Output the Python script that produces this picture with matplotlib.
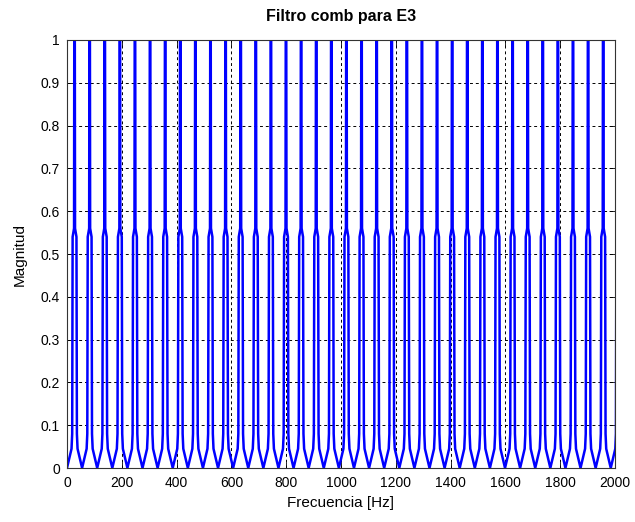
import numpy as np
import matplotlib
matplotlib.use('Agg')
from matplotlib import pyplot as plt

# comb response: peaks every 55.125 Hz starting at 27.56 Hz.
# shape of one peak: distance from the peak centre (Hz) -> magnitude
first_peak_hz = 27.5625
peak_spacing_hz = 55.125
side_offset_hz = [1.0, 1.8, 7.0, 8.6, 11.0, 27.5625]
side_mag = [1.0, 0.56, 0.54, 0.08, 0.045, 0.0]
f_max = 2000

x_ticks = [0, 200, 400, 600, 800, 1000, 1200, 1400, 1600, 1800, 2000]
y_ticks = [0, 0.1, 0.2, 0.3, 0.4, 0.5, 0.6, 0.7, 0.8, 0.9, 1]
y_ticklabels = ['0', '0.1', '0.2', '0.3', '0.4', '0.5', '0.6', '0.7', '0.8', '0.9', '1']

offs = np.array(side_offset_hz)
mags = np.array(side_mag)
one_f = np.concatenate([-offs[::-1], offs])
one_m = np.concatenate([mags[::-1], mags])

freq, mag = [], []
c = first_peak_hz
while c - peak_spacing_hz / 2 <= f_max:
    freq.extend(c + one_f)
    mag.extend(one_m)
    c += peak_spacing_hz

plt.rcParams['font.family'] = ['Liberation Sans', 'DejaVu Sans']

fig = plt.figure(figsize=(6.35, 5.22), dpi=100)
ax = fig.add_axes([0.1055, 0.1034, 0.863, 0.82])

ax.plot(freq, mag, color='#0000ff', linewidth=1.8)

ax.set_xlim(0, f_max)
ax.set_ylim(0, 1)
ax.set_xticks(x_ticks)
ax.set_yticks(y_ticks)
ax.set_yticklabels(y_ticklabels)
ax.tick_params(direction='in', top=True, right=True, labelsize=10, length=4, width=0.6)
ax.tick_params(axis='x', pad=6)
ax.tick_params(axis='y', pad=5)
ax.grid(True, color='black', linestyle=(0, (3, 3)), linewidth=0.7)
for s in ax.spines.values():
    s.set_linewidth(0.8)
    s.set_color('#333333')

ax.set_title('Filtro comb para E3', fontsize=11.5, fontweight='bold', pad=14)
ax.set_xlabel('Frecuencia [Hz]', fontsize=11, labelpad=4)
ax.set_ylabel('Magnitud', fontsize=11, labelpad=10)

fig.savefig('out.png', dpi=100)
